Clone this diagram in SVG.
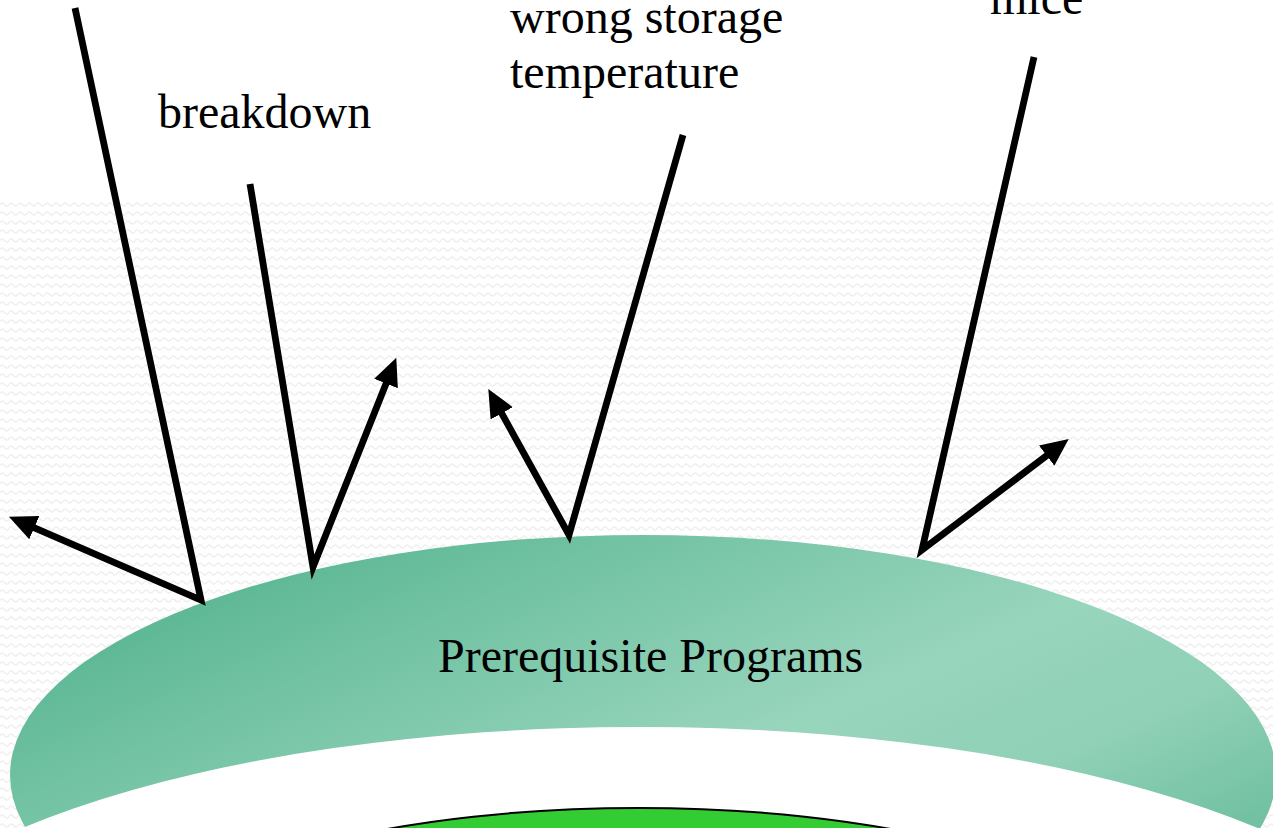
<svg xmlns="http://www.w3.org/2000/svg" width="1273" height="828" viewBox="0 0 1273 828">
<style>
.lbl{font-family:"Liberation Serif","Times New Roman",serif;font-size:48px;fill:#000}
.ln{fill:none;stroke:#000;stroke-width:6.8;stroke-linejoin:miter;stroke-miterlimit:10}
.arr{marker-end:url(#ah)}
</style>
<defs>
<pattern id="wave" width="9" height="9" patternUnits="userSpaceOnUse" y="200">
<path d="M0,4.5 Q2.25,1.5 4.5,4.5 T9,4.5" fill="none" stroke="#efefef" stroke-width="1.6"/>
</pattern>
<linearGradient id="band" gradientUnits="userSpaceOnUse" x1="200" y1="560" x2="480" y2="1204">
<stop offset="0" stop-color="#58b590"/>
<stop offset="0.23" stop-color="#74c3a5"/>
<stop offset="0.55" stop-color="#98d5bd"/>
<stop offset="0.75" stop-color="#8fd0b7"/>
<stop offset="0.93" stop-color="#73c1a3"/>
</linearGradient>
<marker id="ah" markerUnits="userSpaceOnUse" markerWidth="30" markerHeight="30" viewBox="0 -12 26 24" refX="2" refY="0" orient="auto">
<path d="M0,-11 L24,0 L0,11 Z" fill="#000"/>
</marker>
</defs>
<rect x="0" y="0" width="1273" height="828" fill="#fff"/>
<rect x="0" y="200" width="1273" height="628" fill="url(#wave)"/>
<g id="prerequisite">
<ellipse cx="643" cy="775" rx="633" ry="240" fill="url(#band)"/>
<ellipse cx="640" cy="1004" rx="800" ry="277" fill="#fff"/>
<text class="lbl" x="438" y="672">Prerequisite Programs</text>
</g>
<g id="inner">
<ellipse cx="639" cy="931" rx="450" ry="123" fill="#33cc33" stroke="#000" stroke-width="2"/>
</g>
<g id="labels">
<text class="lbl" x="158" y="128">breakdown</text>
<text class="lbl" x="510" y="33">wrong storage</text>
<text class="lbl" x="510" y="88">temperature</text>
<text class="lbl" x="990" y="14">mice</text>
</g>
<g id="connectors">
<polyline class="ln arr" points="75,8 201,600 32.2,526.8"/>
<polyline class="ln arr" points="250,184 313,567 386.9,381.4"/>
<polyline class="ln arr" points="683,135 569,535 500.6,411.3"/>
<polyline class="ln arr" points="1034,57 922,550 1048.5,454.3"/>
</g>
</svg>
